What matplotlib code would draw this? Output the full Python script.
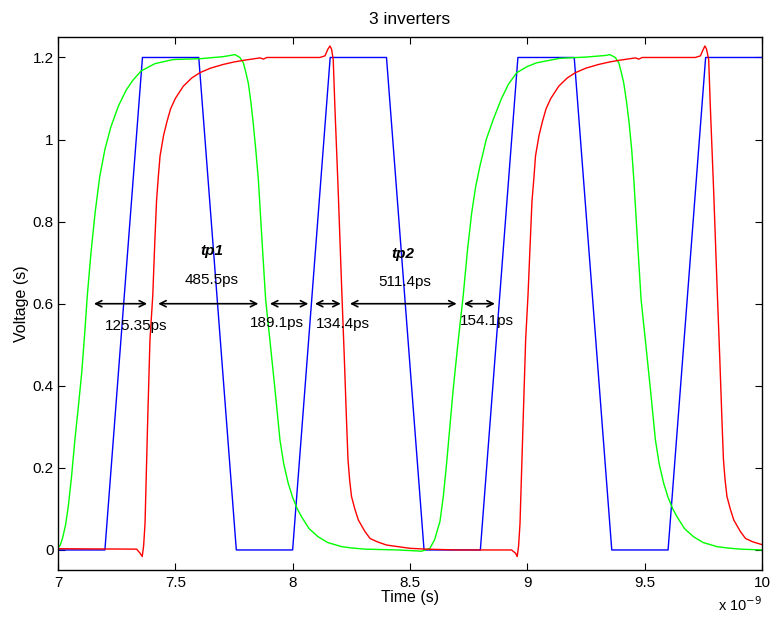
import matplotlib
matplotlib.use('Agg')
import matplotlib.pyplot as plt
from matplotlib.ticker import FuncFormatter

plt.rcParams['font.family'] = ['Liberation Sans', 'DejaVu Sans']

# time in ns, voltage in V
blue_t = [7.0, 7.2, 7.36, 7.6, 7.76, 8.0, 8.16, 8.4, 8.56, 8.8, 8.96, 9.2, 9.36, 9.6, 9.76, 10.0]
blue_v = [0, 0, 1.2, 1.2, 0, 0, 1.2, 1.2, 0, 0, 1.2, 1.2, 0, 0, 1.2, 1.2]

green_t = [7.0, 7.01, 7.02, 7.032, 7.044, 7.058, 7.072, 7.087, 7.101, 7.113, 7.125, 7.14,
           7.158, 7.178, 7.2, 7.225, 7.257, 7.29, 7.32, 7.354, 7.413, 7.491, 7.605, 7.704,
           7.735, 7.754, 7.775, 7.79, 7.8, 7.811, 7.822, 7.832, 7.843, 7.854, 7.871, 7.885,
           7.903, 7.925, 7.946, 7.962, 7.981, 8.0, 8.02, 8.038, 8.07, 8.109, 8.15, 8.209,
           8.25, 8.308, 8.45, 8.55, 8.585, 8.605, 8.628, 8.642, 8.656, 8.67, 8.684, 8.706,
           8.727, 8.745, 8.763, 8.78, 8.798, 8.825, 8.855, 8.89, 8.92, 8.955, 9.0, 9.04,
           9.139, 9.25, 9.335, 9.352, 9.375, 9.39, 9.4, 9.411, 9.423, 9.434, 9.445, 9.454,
           9.471, 9.485, 9.503, 9.525, 9.546, 9.562, 9.581, 9.6, 9.62, 9.638, 9.67, 9.709,
           9.75, 9.809, 9.85, 9.908, 10.0]
green_v = [0.005, 0.012, 0.03, 0.06, 0.106, 0.18, 0.268, 0.35, 0.431, 0.52, 0.62, 0.72,
           0.821, 0.91, 0.976, 1.03, 1.081, 1.12, 1.145, 1.167, 1.185, 1.195, 1.197, 1.202,
           1.205, 1.207, 1.2, 1.187, 1.165, 1.138, 1.092, 1.04, 0.975, 0.902, 0.74, 0.61,
           0.512, 0.39, 0.268, 0.21, 0.163, 0.128, 0.1, 0.081, 0.052, 0.032, 0.018, 0.008,
           0.005, 0.002, 0.0, -0.003, 0.004, 0.025, 0.07, 0.13, 0.21, 0.3, 0.39, 0.512,
           0.62, 0.73, 0.821, 0.885, 0.935, 1.0, 1.049, 1.1, 1.135, 1.163, 1.178, 1.187,
           1.198, 1.201, 1.205, 1.207, 1.2, 1.187, 1.165, 1.138, 1.092, 1.04, 0.975, 0.902,
           0.74, 0.61, 0.512, 0.39, 0.268, 0.21, 0.163, 0.128, 0.1, 0.081, 0.052, 0.032,
           0.018, 0.008, 0.005, 0.002, 0.0]

red_t = [7.0, 7.335, 7.35, 7.359, 7.365, 7.371, 7.382, 7.392, 7.404, 7.413, 7.42, 7.427,
         7.435, 7.45, 7.465, 7.48, 7.5, 7.534, 7.57, 7.605, 7.65, 7.704, 7.75, 7.79, 7.861,
         7.875, 7.89, 8.0, 8.116, 8.138, 8.15, 8.159, 8.166, 8.173, 8.18, 8.194, 8.209,
         8.22, 8.23, 8.236, 8.243, 8.251, 8.265, 8.28, 8.308, 8.33, 8.36, 8.4, 8.45, 8.5,
         8.571, 8.7, 8.933, 8.95, 8.957, 8.963, 8.969, 8.982, 8.993, 9.003, 9.013, 9.02,
         9.028, 9.035, 9.05, 9.065, 9.08, 9.1, 9.134, 9.17, 9.205, 9.25, 9.304, 9.35, 9.39,
         9.461, 9.475, 9.49, 9.6, 9.716, 9.738, 9.75, 9.757, 9.764, 9.773, 9.78, 9.794,
         9.809, 9.82, 9.83, 9.836, 9.843, 9.851, 9.865, 9.88, 9.908, 9.93, 9.96, 10.0]
red_v = [0.003, 0.002, -0.008, -0.016, 0.01, 0.065, 0.309, 0.512, 0.62, 0.756, 0.85, 0.905,
         0.96, 1.01, 1.045, 1.075, 1.1, 1.13, 1.15, 1.163, 1.174, 1.183, 1.189, 1.193, 1.199,
         1.196, 1.2, 1.2, 1.2, 1.204, 1.22, 1.228, 1.22, 1.195, 1.081, 0.878, 0.638,
         0.472, 0.309, 0.22, 0.17, 0.13, 0.1, 0.073, 0.045, 0.028, 0.02, 0.012, 0.008, 0.004,
         0.002, 0.0, 0.0, -0.008, -0.016, 0.01, 0.065, 0.309, 0.512, 0.62, 0.756, 0.85,
         0.905, 0.96, 1.01, 1.045, 1.075, 1.1, 1.13, 1.15, 1.163, 1.174, 1.183, 1.189, 1.193,
         1.199, 1.196, 1.2, 1.2, 1.2, 1.204, 1.22, 1.228, 1.22, 1.195, 1.081, 0.878,
         0.638, 0.472, 0.309, 0.22, 0.17, 0.13, 0.1, 0.073, 0.045, 0.028, 0.02, 0.013]

# delay arrows at V = 0.6
arrow_y = 0.6
arrow_start = [7.153, 7.427, 7.903, 8.095, 8.244, 8.73]
arrow_end = [7.38, 7.854, 8.067, 8.205, 8.699, 8.862]

delay_text = ['125.35ps', '485.5ps', '189.1ps', '134.4ps', '511.4ps', '154.1ps']
delay_x = [7.332, 7.655, 7.932, 8.216, 8.479, 8.827]
delay_y = [0.545, 0.657, 0.553, 0.55, 0.654, 0.557]

tp_text = ['tp1', 'tp2']
tp_x = [7.655, 8.471]
tp_y = [0.728, 0.722]

fs = 11

fig = plt.figure(figsize=(7.73, 6.17), dpi=100)
ax = fig.add_axes([0.075, 0.0754, 0.9107, 0.8647])

ax.plot(blue_t, blue_v, color='#0000ff', lw=1.0)
ax.plot(green_t, green_v, color='#00ff00', lw=1.0)
ax.plot(red_t, red_v, color='#ff0000', lw=1.0)

for a, b in zip(arrow_start, arrow_end):
    ax.annotate('', xy=(b, arrow_y), xytext=(a, arrow_y),
                arrowprops=dict(arrowstyle='<->', color='black', lw=1.2,
                                shrinkA=0, shrinkB=0, mutation_scale=11))

for s, x, y in zip(delay_text, delay_x, delay_y):
    ax.text(x, y, s, ha='center', va='center', fontsize=11)
for s, x, y in zip(tp_text, tp_x, tp_y):
    ax.text(x, y, s, ha='center', va='center', fontsize=11, fontweight='bold', fontstyle='italic')

ax.set_xlim(7, 10)
ax.set_ylim(-0.05, 1.25)
ax.set_xticks([7, 7.5, 8, 8.5, 9, 9.5, 10])
ax.set_yticks([0, 0.2, 0.4, 0.6, 0.8, 1.0, 1.2])
ax.xaxis.set_major_formatter(FuncFormatter(lambda v, p: '%g' % v))
ax.yaxis.set_major_formatter(FuncFormatter(lambda v, p: '%g' % v))
ax.tick_params(direction='in', top=True, right=True, length=5, width=0.8,
               labelsize=fs, pad=4)
ax.tick_params(axis='y', pad=3)
for sp in ax.spines.values():
    sp.set_linewidth(1.0)

ax.set_title('3 inverters', fontsize=12.5, pad=9)
ax.set_xlabel('Time (s)', fontsize=11.5, labelpad=0)
ax.set_ylabel('Voltage (s)', fontsize=11.5, labelpad=3)
ax.text(1.0, -0.047, r'x 10$^{-9}$', transform=ax.transAxes, ha='right', va='top', fontsize=10.5)

fig.savefig('out.png', dpi=100)
